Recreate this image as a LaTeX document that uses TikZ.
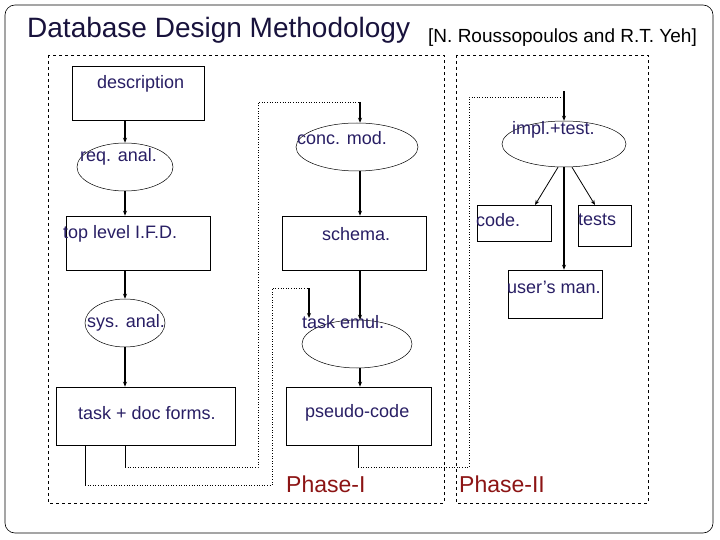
\documentclass[tikz,border=0pt]{standalone}
\usepackage{fontspec}
\setmainfont{Liberation Sans}
\usetikzlibrary{shapes.geometric,arrows.meta}
\definecolor{txt}{RGB}{40,30,100}
\definecolor{phase}{RGB}{140,20,20}
\begin{document}
\begin{tikzpicture}[x=1pt,y=-1pt,
  box/.style={draw,line width=0.6pt,inner sep=0pt},
  ell/.style={draw,ellipse,line width=0.5pt,inner sep=0pt},
  lbl/.style={text=txt,font=\fontsize{18}{20}\selectfont,inner sep=0pt,anchor=west},
  arr/.style={-{Stealth[length=5pt,width=4pt]},line width=1.1pt},
  dot/.style={dotted,line width=0.6pt},
  phase box/.style={draw,dashed,line width=0.6pt}]
\useasboundingbox (0,0) rectangle (720,540);
\draw[rounded corners=10pt,line width=0.6pt] (5,5) rectangle (713,533);
\node[anchor=west,inner sep=0pt,text=txt!60!black,font=\fontsize{28}{30}\selectfont] (title) at (27,30) {Database Design Methodology};
\node[anchor=west,inner sep=0pt,font=\fontsize{19}{21}\selectfont] (ref) at (428,38) {[N. Roussopoulos and R.T. Yeh]};
\draw[phase box] (48,55) rectangle (444,503);
\draw[phase box] (456,55) rectangle (648,503);
% shapes
\node[box,minimum width=132,minimum height=54] (desc) at (138,93) {};
\node[ell,minimum width=96,minimum height=48] (req) at (125,167) {};
\node[box,minimum width=144,minimum height=54] (ifd) at (138,243) {};
\node[ell,minimum width=80,minimum height=48] (sys) at (125,323) {};
\node[box,minimum width=179,minimum height=58] (tdf) at (145.5,416) {};
\node[ell,minimum width=122,minimum height=48] (conc) at (357,147) {};
\node[box,minimum width=144,minimum height=54] (schema) at (354,243) {};
\node[ell,minimum width=110,minimum height=48] (emul) at (357,344) {};
\node[box,minimum width=145,minimum height=58] (pseudo) at (358.5,416) {};
\node[ell,minimum width=124,minimum height=46] (impl) at (564,144) {};
\node[box,minimum width=74,minimum height=36] (code) at (514,223) {};
\node[box,minimum width=53,minimum height=41] (tests) at (604.5,225.5) {};
\node[box,minimum width=94,minimum height=48] (man) at (555,294) {};
% labels
\node[lbl] (l1) at (97,84) {description};
\node[lbl] (l2) at (80,157) {req. anal.};
\node[lbl] (l3) at (63,234) {top level I.F.D.};
\node[lbl] (l4) at (87,323) {sys. anal.};
\node[lbl] (l5) at (78,413) {task + doc forms.};
\node[lbl] (l6) at (297,138) {conc. mod.};
\node[lbl] (l7) at (322,234) {schema.};
\node[lbl] (l8) at (302,322) {task emul.};
\node[lbl] (l9) at (305,413) {pseudo-code};
\node[lbl] (l10) at (512,130) {impl.+test.};
\node[lbl] (l11) at (476,220) {code.};
\node[lbl] (l12) at (578,220) {tests};
\node[lbl] (l13) at (507,287) {user’s man.};
\node[anchor=west,inner sep=0pt,text=phase,font=\fontsize{23}{25}\selectfont] (p1) at (286,484) {Phase-I};
\node[anchor=west,inner sep=0pt,text=phase,font=\fontsize{23}{25}\selectfont] (p2) at (459,484) {Phase-II};
% coordinates
\coordinate (c1) at (360,102); \coordinate (c2) at (258,102);
\coordinate (d1) at (309,288); \coordinate (d2) at (272,288);
\coordinate (e1) at (564,91); \coordinate (e2) at (469,97);
% arrows
\draw[arr] (desc.south -| req.north) -- (req.north);
\draw[arr] (req.south) -- (req.south |- ifd.north);
\draw[arr] (req.south |- ifd.south) -- (sys.north);
\draw[arr] (sys.south) -- (sys.south |- tdf.north);
\draw[arr] (c1) -- (c1 |- conc.north);
\draw[arr] (c1 |- conc.south) -- (c1 |- schema.north);
\draw[arr] (c1 |- schema.south) -- (c1 |- emul.north);
\draw[arr] (c1 |- emul.south) -- (c1 |- pseudo.north);
\draw[arr] (d1) -- ++(0,30);
\draw[arr] (e1) -- (impl.north);
\draw[arr,line width=0.8pt] (impl.south) ++(-6,0) -- (535,205);
\draw[arr,line width=0.8pt] (impl.south) ++(8,0) -- (595,205);
\draw[arr] (impl.south) -- (impl.south |- man.north);
% feedback lines
\draw[line width=0.5pt] (125,445) -- (125,467);
\draw[line width=0.5pt] (85,445) -- (85,485);
\draw[line width=0.5pt] (358,445) -- (358,467);
\draw[dot] (125,467) -- (258,467) -- (c2) -- (c1);
\draw[dot] (85,485) -- (272,485) -- (d2) -- (d1);
\draw[dot] (358,467) -- (469,467) -- (e2) -- (564,97);
\end{tikzpicture}
\end{document}
